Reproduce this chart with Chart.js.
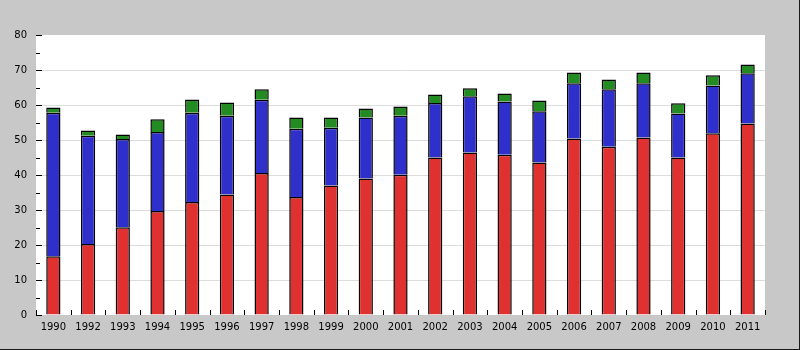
<!DOCTYPE html>
<html>
<head>
<meta charset="utf-8">
<script src="https://cdn.jsdelivr.net/npm/chart.js@4/dist/chart.umd.min.js"></script>
<style>
    html, body { margin: 0; padding: 0; background: #c8c8c8; }
    #wrap { width: 800px; height: 350px; position: relative; }
</style>
</head>
<body>
<div id="wrap"><canvas id="stackChart" width="800" height="350"></canvas></div>
<script>
// Yillar (1991 yok)
const years = ['1990', '1992', '1993', '1994', '1995', '1996', '1997', '1998', '1999', '2000', '2001',
               '2002', '2003', '2004', '2005', '2006', '2007', '2008', '2009', '2010', '2011'];

// Seri degerleri (alttan uste)
const redValues   = [16.8, 20.3, 25.1, 29.7, 32.3, 34.4, 40.6, 33.7, 37.0, 39.0, 40.1,
                     45.0, 46.4, 45.8, 43.6, 50.4, 48.1, 50.7, 45.0, 51.9, 54.7];
const blueValues  = [41.0, 30.9, 25.2, 22.6, 25.5, 22.5, 20.9, 19.5, 16.5, 17.4, 16.8,
                     15.6, 16.1, 15.2, 14.6, 15.8, 16.4, 15.5, 12.6, 13.7, 14.4];
const greenValues = [1.5, 1.5, 1.3, 3.6, 3.8, 3.8, 3.0, 3.2, 2.9, 2.6, 2.7,
                     2.4, 2.3, 2.3, 3.1, 3.1, 2.8, 3.1, 2.9, 2.9, 2.5];

const yTicks = [0, 10, 20, 30, 40, 50, 60, 70, 80];

const labelFont = { family: 'DejaVu Sans', size: 10 };

// Cizim alani arka plani ve cerceve
const plotBackground = {
    id: 'plotBackground',
    beforeDraw(chart) {
        const { ctx, chartArea: a } = chart;
        ctx.save();
        ctx.fillStyle = '#ffffff';
        ctx.fillRect(a.left, a.top, a.right - a.left, a.bottom - a.top);
        ctx.fillStyle = '#1a1a1a';
        ctx.fillRect(chart.width - 1, 0, 1, chart.height);
        ctx.fillRect(0, chart.height - 1, chart.width, 1);
        ctx.restore();
    }
};

// Eksen isaretleri cizim alaninin icine ciziliyor
const innerTicks = {
    id: 'innerTicks',
    afterDatasetsDraw(chart) {
        const { ctx, chartArea: a, scales } = chart;
        ctx.save();
        ctx.strokeStyle = '#000';
        ctx.lineWidth = 1;
        ctx.beginPath();
        for (let v = 0; v <= 80; v += 5) {
            const y = Math.round(scales.y.getPixelForValue(v)) + 0.5;
            const len = v % 10 === 0 ? 6 : 4;
            ctx.moveTo(a.left, y);
            ctx.lineTo(a.left + len, y);
        }
        const step = scales.x.getPixelForValue(1) - scales.x.getPixelForValue(0);
        for (let i = 0; i <= years.length; i++) {
            const x = Math.round(scales.x.getPixelForValue(i) - step / 2) + 0.5;
            ctx.moveTo(x, a.bottom);
            ctx.lineTo(x, a.bottom - 5);
        }
        ctx.stroke();
        ctx.restore();
    }
};

const barStyle = {
    borderColor: '#000',
    borderWidth: { top: 1.5, left: 1.5, right: 1.5, bottom: 0 },
    borderSkipped: false,
    barPercentage: 0.82,
    categoryPercentage: 0.5
};

new Chart(document.getElementById('stackChart'), {
    type: 'bar',
    data: {
        labels: years,
        datasets: [
            { label: 'A', data: redValues,   backgroundColor: '#e03131', ...barStyle },
            { label: 'B', data: blueValues,  backgroundColor: '#2f2fcc', ...barStyle },
            { label: 'C', data: greenValues, backgroundColor: '#228b22', ...barStyle }
        ]
    },
    options: {
        responsive: false,
        animation: false,
        layout: { padding: { top: 35, right: 35, left: 0, bottom: 0 } },
        plugins: {
            legend: { display: false },
            tooltip: { enabled: false }
        },
        scales: {
            x: {
                stacked: true,
                grid: { display: false, drawTicks: false },
                border: { display: false },
                ticks: { color: '#000', font: labelFont, padding: 6, maxRotation: 0, autoSkip: false },
                afterFit(scale) { scale.height = 35; }
            },
            y: {
                stacked: true,
                min: 0,
                max: 80,
                afterBuildTicks(scale) { scale.ticks = yTicks.map(v => ({ value: v })); },
                grid: {
                    drawTicks: false,
                    color: ctx => (ctx.tick && (ctx.tick.value === 0 || ctx.tick.value === 80)) ? 'rgba(0,0,0,0)' : '#dcdcdc'
                },
                border: { display: false },
                ticks: { color: '#000', font: labelFont, padding: 9 },
                afterFit(scale) { scale.width = 36; }
            }
        }
    },
    plugins: [plotBackground, innerTicks]
});
</script>
</body>
</html>
